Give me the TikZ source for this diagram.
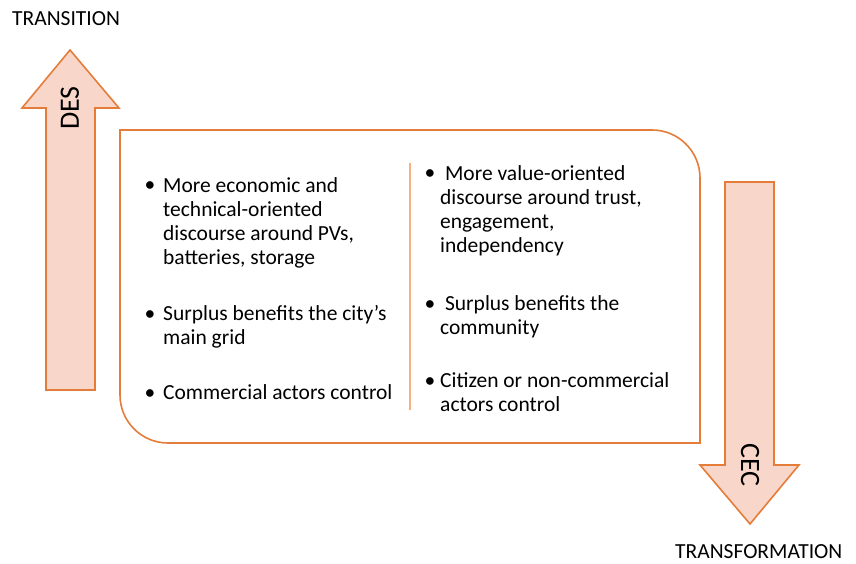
\documentclass[tikz,border=0pt]{standalone}
\usepackage{fontspec}
\setmainfont{Carlito}
\definecolor{orangeline}{HTML}{E57D3A}
\definecolor{peach}{HTML}{F8D6CA}
\definecolor{divline}{HTML}{F4B183}

\begin{document}
\begin{tikzpicture}[x=1pt,y=1pt,
        txt/.style={font=\fontsize{21.5}{24}\selectfont, inner sep=0pt, align=left, anchor=base west},
        dot/.style={font=\fontsize{21.5}{24}\selectfont, inner sep=0pt, anchor=base},
        biglabel/.style={font=\fontsize{28}{30}\selectfont, inner sep=0pt},
        bigarrow/.style={draw=orangeline, fill=peach, line width=1.6pt, line join=miter}]
        \useasboundingbox (0,0) rectangle (856,-564);

        % the two arrows
        \draw[bigarrow] (46,-390) -- (46,-108) -- (22,-108) -- (70,-50) -- (119,-108) -- (95,-108) -- (95,-390) -- cycle;
        \draw[bigarrow] (725,-182) -- (725,-465) -- (700,-465) -- (750,-524) -- (799,-465) -- (774,-465) -- (774,-182) -- cycle;
        \node[biglabel, rotate=90] (des) at (70,-108) {DES};
        \node[biglabel, rotate=-90] (cec) at (750,-465) {CEC};
        \node[txt, anchor=west] (transition) at (12,-19) {TRANSITION};
        \node[txt, anchor=west] (transformation) at (675,-552) {TRANSFORMATION};

        % the box
        \draw[orangeline, line width=1.6pt] (120,-130) -- (652,-130) arc[start angle=90, end angle=0, radius=48]
            -- (700,-443) -- (168,-443) arc[start angle=270, end angle=180, radius=48] -- cycle;
        \draw[divline, line width=1.2pt] (410,-163) -- (410,-410);

        % left column (base anchor sits on the last line)
        \node[dot] (b1) at (150,-192) {\textbullet};
        \node[txt] (l1) at (163,-264) {More economic and\\technical-oriented\\discourse around PVs,\\batteries, storage};
        \node[dot] (b2) at (150,-320) {\textbullet};
        \node[txt] (l2) at (163,-344) {Surplus benefits the city’s\\main grid};
        \node[dot] (b3) at (150,-399) {\textbullet};
        \node[txt] (l3) at (163,-399) {Commercial actors control};

        % right column
        \node[dot] (c1) at (430,-180) {\textbullet};
        \node[txt] (r1) at (440,-252) {\ More value-oriented\\discourse around trust,\\engagement,\\independency};
        \node[dot] (c2) at (430,-310) {\textbullet};
        \node[txt] (r2) at (440,-334) {\ Surplus benefits the\\community};
        \node[dot] (c3) at (430,-387) {\textbullet};
        \node[txt] (r3) at (440,-411) {Citizen or non-commercial\\actors control};
\end{tikzpicture}
\end{document}
